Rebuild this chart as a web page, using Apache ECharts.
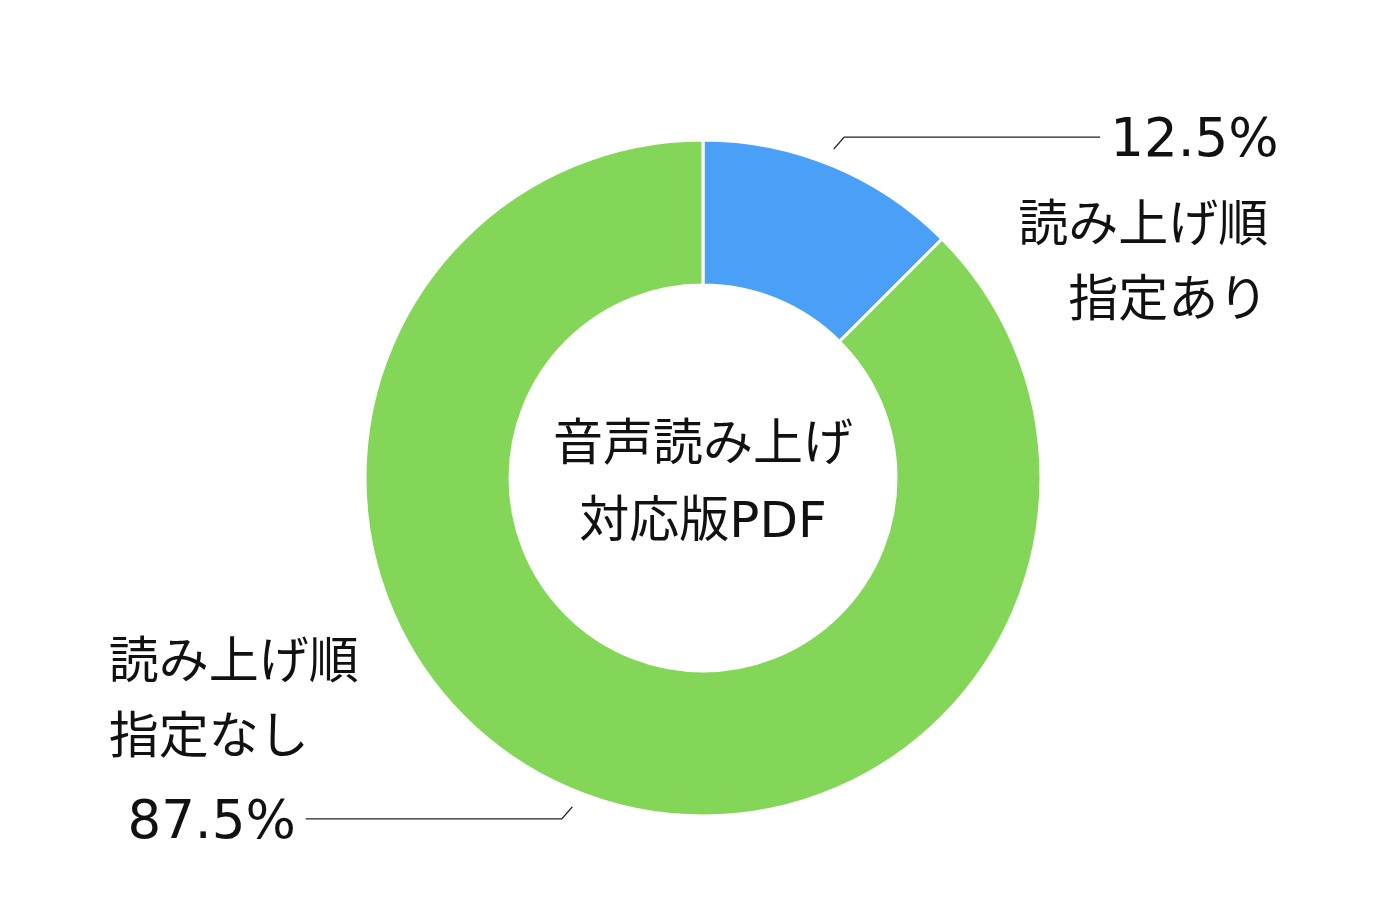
<!DOCTYPE html>
<html>
<head>
<meta charset="utf-8">
<script src="https://cdn.jsdelivr.net/npm/echarts@6/dist/echarts.min.js"></script>
<style>
  html, body { margin: 0; padding: 0; background: #fff; }
  #chart { width: 1400px; height: 915px; }
</style>
</head>
<body>
<div id="chart"></div>
<script>
var categories = ['読み上げ順\n指定あり', '読み上げ順\n指定なし'];
var values = [12.5, 87.5];
var colors = ['#4a9ff6', '#84d658'];
var centerText = '音声読み上げ\n対応版PDF';

var font = '"Noto Sans CJK JP", sans-serif';
var latinFont = '"DejaVu Sans", "Noto Sans CJK JP", sans-serif';
var textColor = '#111';
var pieCenter = [703, 478];
var pieRadius = [193, 338];

var chart = echarts.init(document.getElementById('chart'));

// names go under the percentage on the right side, over it on the left side
function nameLabel(name, below) {
  var lines = name.split('\n').map(function (s) { return '{n|' + s + '}'; });
  return below ? '{sp| }\n' + lines.join('\n') : lines.join('\n') + '\n{sp| }';
}

var pctData = categories.map(function (c, i) {
  return { name: c, value: values[i], itemStyle: { color: colors[i] } };
});

var nameData = categories.map(function (c, i) {
  var right = i === 0;
  return {
    name: c,
    value: values[i],
    label: {
      formatter: nameLabel(c, right),
      rich: {
        n: { fontSize: 50, lineHeight: 75, color: textColor, fontFamily: font, align: right ? 'right' : 'left' },
        sp: { fontSize: 10, lineHeight: 245 }
      }
    },
    labelLine: { length: 31, length2: right ? 166 : 195 }
  };
});

var option = {
  animation: false,
  backgroundColor: '#fff',
  graphic: [{
    type: 'text',
    x: pieCenter[0],
    y: pieCenter[1] + 8,
    style: {
      text: centerText,
      align: 'center',
      verticalAlign: 'middle',
      fontSize: 50,
      lineHeight: 77,
      fontFamily: latinFont,
      fill: textColor
    },
    z: 10
  }],
  series: [
    {
      type: 'pie',
      center: pieCenter,
      radius: pieRadius,
      startAngle: 90,
      clockwise: true,
      avoidLabelOverlap: false,
      itemStyle: { borderColor: '#fff', borderWidth: 3 },
      label: {
        show: true,
        position: 'outside',
        formatter: function (p) { return p.percent.toFixed(1) + '%'; },
        fontSize: 53,
        color: textColor,
        fontFamily: latinFont,
        distanceToLabelLine: 10
      },
      labelLine: {
        show: true,
        length: 31,
        length2: 256,
        lineStyle: { color: '#222', width: 1.4 }
      },
      // short slanted tick at the start of the leader, pointing back toward the ring
      labelLayout: function (params) {
        var pts = params.labelLinePoints;
        if (!pts) return {};
        var p0 = pts[0], p1 = pts[1];
        var sx = p0[0] < p1[0] ? -1 : 1;
        var sy = p0[1] < p1[1] ? -1 : 1;
        return {
          dy: 5,
          labelLinePoints: [
            [p1[0] + sx * 10.5, p1[1] + sy * 12],
            p1,
            pts[2]
          ]
        };
      },
      data: pctData
    },
    {
      type: 'pie',
      center: pieCenter,
      radius: pieRadius,
      startAngle: 90,
      clockwise: true,
      silent: true,
      avoidLabelOverlap: false,
      itemStyle: { color: 'rgba(0,0,0,0)', borderWidth: 0 },
      label: {
        show: true,
        position: 'outside',
        distanceToLabelLine: 8
      },
      labelLine: { show: false },
      data: nameData
    }
  ]
};

chart.setOption(option);
</script>
</body>
</html>
